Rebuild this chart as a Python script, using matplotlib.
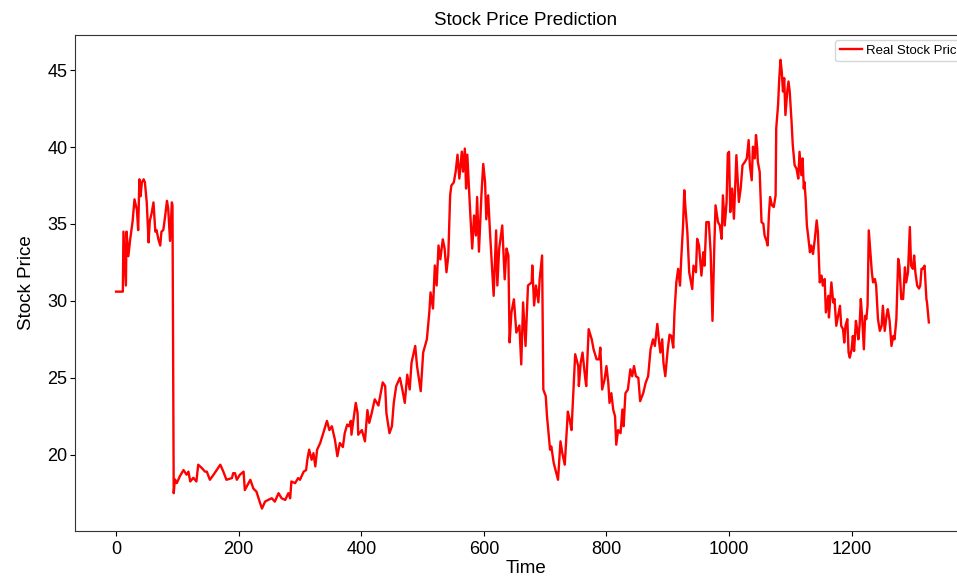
import matplotlib
matplotlib.use("Agg")
import matplotlib.pyplot as plt

plt.rcParams['font.family'] = ['Liberation Sans', 'DejaVu Sans']

# time index and price
time = [0, 11, 12, 14, 16, 17, 20, 23, 27, 30, 34, 36, 38, 40, 42, 45, 47, 50, 53, 55,
        58, 61, 64, 66, 69, 72, 74, 77, 80, 83, 85, 88, 91, 92, 94, 96, 99, 104, 110, 115,
        118, 121, 126, 131, 134, 140, 145, 148, 153, 159, 170, 175, 180, 189, 191,
        194, 197, 202, 208, 210, 219, 224, 229, 235, 238, 243, 248, 254, 259, 265, 270,
        276, 281, 284, 286, 292, 297, 300, 306, 310, 312, 315, 319, 322, 325, 328, 333,
        338, 344, 348, 352, 357, 361, 365, 370, 373, 377, 380, 383, 384, 388, 391, 394,
        395, 401, 406, 410, 413, 417, 422, 428,
        435, 439, 441, 446, 450, 453, 457, 463, 467, 471, 475, 479, 482, 488, 491, 497,
        501, 507, 511, 513, 517, 520, 523, 526, 529, 533, 536, 539, 542, 545, 547, 551,
        554, 557, 560, 564, 566, 569, 571, 573, 576, 578, 581, 584, 587, 589, 592, 596,
        599, 602, 604, 607, 610, 614, 616, 620, 622, 625, 627, 630, 634, 637, 640, 642,
        645, 649, 653, 658, 661, 664, 668, 672,
        678, 679, 682, 685, 689, 691, 695, 697, 701, 703, 708, 710, 714, 717, 721, 725,
        728, 732, 737, 740, 743, 746, 749, 754, 755, 758, 761, 765, 767, 771, 776, 779,
        784, 788, 790, 793, 797, 800, 803, 805, 808, 811, 814, 816, 819, 823, 826, 828,
        831, 835, 839, 842, 845, 848, 852, 855, 860, 864, 868, 872, 876, 879, 883, 886,
        888, 891, 893, 896, 900,
        903, 906, 909, 911, 914, 917, 920, 922, 925, 927, 929, 932, 935, 937, 940, 942,
        946, 948, 951, 955, 958, 960, 963, 967, 970, 973, 976, 978, 982, 985, 988, 990,
        993, 996, 998, 1000, 1002, 1005, 1008, 1012, 1016, 1019, 1022, 1026, 1029, 1032,
        1034, 1037, 1039, 1042, 1044, 1046, 1047, 1050, 1053, 1056, 1058, 1061, 1063,
        1065, 1067, 1070, 1073, 1076, 1077, 1080, 1082, 1084, 1086, 1088, 1090, 1092,
        1095, 1097, 1099, 1102, 1104, 1107, 1110, 1113,
        1115, 1118, 1120, 1122, 1123, 1125, 1127, 1129, 1132, 1134, 1137, 1140, 1143,
        1145, 1148, 1151, 1153, 1156, 1158, 1162, 1163, 1167, 1170, 1172, 1175, 1178,
        1181, 1183, 1186, 1188, 1190, 1193, 1195, 1197, 1200, 1202, 1204, 1207, 1209,
        1211, 1213, 1215, 1217, 1220, 1222, 1224, 1226, 1228, 1231, 1233, 1235, 1238,
        1240, 1243, 1246, 1249, 1251, 1254, 1257, 1259, 1262, 1265, 1268, 1270, 1273,
        1276, 1278, 1281, 1284, 1287, 1289, 1292, 1295, 1297, 1300, 1302, 1304, 1307,
        1310, 1312, 1314, 1316, 1319, 1322, 1323, 1326]

price = [30.6, 30.6, 34.5, 32.7, 31.0, 34.5, 32.9, 34.0, 35.2, 36.6, 35.9, 34.6, 37.9, 36.8,
         37.7, 37.9, 37.7, 36.4, 33.8, 35.2, 35.7, 36.4, 34.5, 34.6, 34.0, 33.6, 34.5, 34.6,
         35.5, 36.5, 36.0, 33.9, 36.4, 36.2, 17.5, 18.4, 18.15, 18.6, 19.0, 18.7, 18.9,
         18.26, 18.5, 18.26, 19.35, 19.13, 18.9, 18.9, 18.37, 18.7, 19.35, 18.9, 18.37,
         18.48, 18.8,
         18.8, 18.37, 18.7, 18.9, 17.7, 18.37, 17.8, 17.6, 16.85, 16.5, 16.95, 17.06, 17.17,
         16.95, 17.5, 17.17, 17.06, 17.5, 17.17, 18.26, 18.15, 18.48, 18.37, 18.9, 19.0,
         19.67, 20.33, 19.67, 20.1, 19.24, 20.33, 20.76, 21.4, 22.2, 21.6, 21.85, 20.98,
         19.9, 20.76, 20.5, 21.4, 21.96, 21.85, 22.2, 21.3, 22.5, 23.37, 22.7, 21.3, 21.6,
         20.87, 22.9, 22.07, 22.7, 23.6, 23.2,
         24.7, 24.46, 22.7, 21.4, 21.85, 23.37, 24.46, 25.0, 24.24, 23.37, 25.2, 24.24,
         25.98, 27.07, 25.76, 24.13, 26.64, 27.5, 29.25, 30.55, 29.5, 32.3, 31.0, 33.6,
         32.7, 34.0, 33.4, 31.86, 32.95, 36.86, 37.5, 37.7, 38.4, 39.5, 37.95, 39.7, 38.4,
         39.9, 37.3, 39.5, 37.1, 35.55, 33.4, 35.55, 34.25, 36.75, 33.2, 36.86, 38.9, 37.7,
         35.3, 36.86, 34.47, 31.64, 30.33, 34.58, 31.0, 33.4, 34.0, 34.9, 31.4, 33.4,
         32.95, 27.3, 29.25, 30.1, 27.94, 28.4, 25.87, 29.9, 27.07, 31.0,
         31.2, 32.3, 29.7, 31.0, 29.9, 31.4, 32.95, 24.24, 23.8, 22.5, 20.33, 20.54, 19.46,
         19.0, 18.37, 20.87, 20.1, 19.35, 22.8, 22.28, 21.6, 24.0, 26.53, 25.76, 24.46,
         25.98, 26.64, 25.1, 24.46, 28.16, 27.5, 26.85, 26.2, 26.2, 26.96, 24.24, 24.9,
         25.76, 24.68, 23.37, 24.0, 22.94, 22.5, 20.65, 21.6, 21.4, 22.94, 21.85, 24.0,
         24.24, 25.55, 25.1, 25.76, 25.1, 25.0, 23.48, 24.0, 24.68, 25.1, 26.85, 27.5,
         27.07, 28.5, 27.3, 26.64, 27.5, 25.98, 25.1, 26.85,
         27.8, 27.72, 26.96, 29.25, 31.2, 32.08, 30.99, 32.73, 34.9, 37.19, 35.99, 34.47,
         31.86, 31.42, 30.77, 32.29, 31.86, 34.03, 33.6, 31.64, 33.16, 32.29, 35.12, 35.12,
         33.16, 28.7, 33.6, 36.21, 35.12, 34.9, 34.03, 36.86, 34.9, 36.43, 39.58, 39.69,
         35.77, 37.3, 35.34, 39.47, 36.43, 37.3, 38.82, 39.04, 39.26, 40.45, 38.82, 37.84,
         40.02, 39.26, 40.78, 39.91, 39.04, 38.39, 35.12, 35.01, 34.25, 33.92, 33.6, 35.56,
         36.75, 36.21, 36.1, 36.86, 41.21, 42.74, 44.48, 45.67, 44.91, 43.61, 44.48, 42.08,
         43.61, 44.26, 43.61, 41.65, 40.12, 38.82, 38.6, 37.95,
         39.69, 38.17, 39.26, 37.3, 37.73, 36.64, 34.9, 34.25, 33.16, 33.6, 33.05, 34.03,
         35.23, 34.47, 31.2, 31.64, 30.99, 31.42, 29.25, 30.33, 28.92, 31.2, 29.9, 30.12,
         28.38, 29.03, 29.68, 28.38, 28.16, 27.29, 28.38, 28.81, 26.64, 26.31, 26.85, 27.72,
         26.74, 28.7, 28.16, 27.5, 28.38, 30.12, 29.03, 26.85, 29.03, 28.81, 29.68, 34.58,
         32.95, 31.86, 31.2, 31.42, 30.99, 28.81, 28.05, 28.38, 29.68, 28.05, 29.03, 29.46,
         28.7, 27.07, 27.72, 27.5, 28.81, 32.73, 32.29, 30.12, 30.12, 32.18, 31.2, 31.86,
         34.8, 32.29, 32.08, 32.95, 31.86, 30.99, 30.8, 30.99, 32.08, 32.08, 32.29, 30.12,
         29.9, 28.6]

fig = plt.figure(figsize=(9.57, 5.76), dpi=100)
ax = fig.add_axes([0.0784, 0.0781, 0.9415, 0.8611])

ax.plot(time, price, color='red', linewidth=1.7, label='Real Stock Price')

ax.set_xlim(-67, 1403)
ax.set_ylim(15.04, 47.28)
ax.set_xticks([0, 200, 400, 600, 800, 1000, 1200])
ax.set_yticks([20, 25, 30, 35, 40, 45])
ax.tick_params(labelsize=13)
ax.tick_params(axis='y', pad=2)
ax.tick_params(axis='x', pad=4)
for s in ax.spines.values():
    s.set_color('#333333')

ax.set_title('Stock Price Prediction', fontsize=13.5, pad=7)
ax.set_xlabel('Time', fontsize=13.5, labelpad=1)
ax.set_ylabel('Stock Price', fontsize=13.5, labelpad=9)
# legend sits partly outside the saved area, as in the original
ax.legend(loc='upper left', bbox_to_anchor=(0.8435, 0.99), borderaxespad=0,
          fontsize=9.5, handlelength=1.7, handletextpad=0.3, borderpad=0.35)

fig.savefig('out.png', dpi=100)
